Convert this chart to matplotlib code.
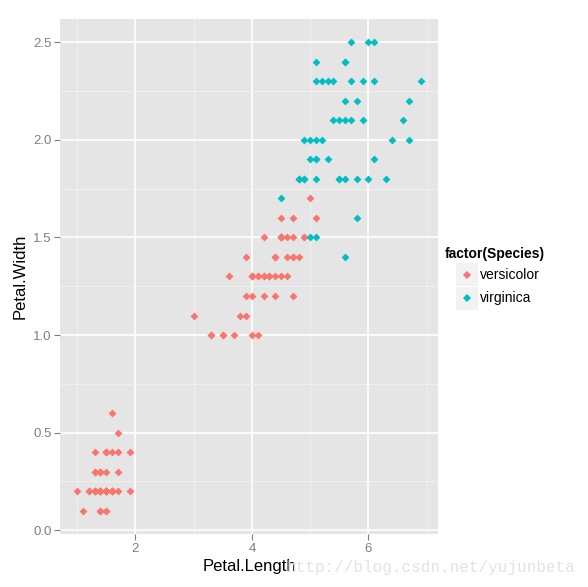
import numpy as np
import matplotlib
matplotlib.use('Agg')
import matplotlib.pyplot as plt
from matplotlib.patches import Rectangle

plt.rcParams['font.family'] = ['Liberation Sans', 'DejaVu Sans']

# iris petal measurements (setosa + versicolor shown as "versicolor")
vers_length = [1.4, 1.4, 1.3, 1.5, 1.4, 1.7, 1.4, 1.5, 1.4, 1.5,
               1.5, 1.6, 1.4, 1.1, 1.2, 1.5, 1.3, 1.4, 1.7, 1.5,
               1.7, 1.5, 1.0, 1.7, 1.9, 1.6, 1.6, 1.5, 1.4, 1.6,
               1.6, 1.5, 1.5, 1.4, 1.5, 1.2, 1.3, 1.4, 1.3, 1.5,
               1.3, 1.3, 1.3, 1.6, 1.9, 1.4, 1.6, 1.5, 1.4, 1.5,
               4.7, 4.5, 4.9, 4.0, 4.6, 4.5, 4.7, 3.3, 4.6, 3.9,
               3.5, 4.2, 4.0, 4.7, 3.6, 4.4, 4.5, 4.1, 4.5, 3.9,
               4.8, 4.0, 4.9, 4.7, 4.3, 4.4, 4.8, 5.0, 4.5, 3.5,
               3.8, 3.7, 3.9, 5.1, 4.5, 4.5, 4.7, 4.4, 4.1, 4.0,
               4.4, 4.6, 4.0, 3.3, 4.2, 4.2, 4.2, 4.3, 3.0, 4.1]
vers_width = [0.2, 0.2, 0.2, 0.2, 0.2, 0.4, 0.3, 0.2, 0.2, 0.1,
              0.2, 0.2, 0.1, 0.1, 0.2, 0.4, 0.4, 0.3, 0.3, 0.3,
              0.2, 0.4, 0.2, 0.5, 0.2, 0.2, 0.4, 0.2, 0.2, 0.2,
              0.2, 0.4, 0.1, 0.2, 0.2, 0.2, 0.2, 0.1, 0.2, 0.2,
              0.3, 0.3, 0.2, 0.6, 0.4, 0.3, 0.2, 0.2, 0.2, 0.2,
              1.4, 1.5, 1.5, 1.3, 1.5, 1.3, 1.6, 1.0, 1.3, 1.4,
              1.0, 1.5, 1.0, 1.4, 1.3, 1.4, 1.5, 1.0, 1.5, 1.1,
              1.8, 1.3, 1.5, 1.2, 1.3, 1.4, 1.4, 1.7, 1.5, 1.0,
              1.1, 1.0, 1.2, 1.6, 1.5, 1.6, 1.5, 1.3, 1.3, 1.3,
              1.2, 1.4, 1.2, 1.0, 1.3, 1.2, 1.3, 1.3, 1.1, 1.3]
virg_length = [6.0, 5.1, 5.9, 5.6, 5.8, 6.6, 4.5, 6.3, 5.8, 6.1,
               5.1, 5.3, 5.5, 5.0, 5.1, 5.3, 5.5, 6.7, 6.9, 5.0,
               5.7, 4.9, 6.7, 4.9, 5.7, 6.0, 4.8, 4.9, 5.6, 5.8,
               6.1, 6.4, 5.6, 5.1, 5.6, 6.1, 5.6, 5.5, 4.8, 5.4,
               5.6, 5.1, 5.1, 5.9, 5.7, 5.2, 5.0, 5.2, 5.4, 5.1]
virg_width = [2.5, 1.9, 2.1, 1.8, 2.2, 2.1, 1.7, 1.8, 1.8, 2.5,
              2.0, 1.9, 2.1, 2.0, 2.4, 2.3, 1.8, 2.2, 2.3, 1.5,
              2.3, 2.0, 2.0, 1.8, 2.1, 1.8, 1.8, 1.8, 2.1, 1.6,
              1.9, 2.0, 2.2, 1.5, 1.4, 2.3, 2.4, 1.8, 1.8, 2.1,
              2.4, 2.3, 1.9, 2.3, 2.5, 2.3, 1.9, 2.0, 2.3, 1.8]

species = ['versicolor', 'virginica']
colors = ['#F8766D', '#00BFC4']

fig = plt.figure(figsize=(5.88, 5.87), dpi=100)
ax = fig.add_axes([0.102, 0.090, 0.643, 0.878])
ax.set_facecolor('#E5E5E5')

ax.scatter(vers_length, vers_width, s=16, marker='D', color=colors[0],
           linewidths=0, zorder=3)
ax.scatter(virg_length, virg_width, s=16, marker='D', color=colors[1],
           linewidths=0, zorder=3)

ax.set_xlim(0.705, 7.195)
ax.set_ylim(-0.02, 2.62)
ax.set_xticks([2, 4, 6])
ax.set_xticks([1, 3, 5, 7], minor=True)
ax.set_yticks([0, 0.5, 1.0, 1.5, 2.0, 2.5])
ax.set_yticklabels(['0.0', '0.5', '1.0', '1.5', '2.0', '2.5'])
ax.set_yticks([0.25, 0.75, 1.25, 1.75, 2.25], minor=True)
ax.grid(True, which='major', color='white', linewidth=1.2, zorder=1)
ax.grid(True, which='minor', color='#F2F2F2', linewidth=0.6, zorder=1)
ax.set_axisbelow(True)
for sp in ax.spines.values():
    sp.set_visible(False)
ax.tick_params(which='major', length=4, color='#7F7F7F', labelcolor='#7F7F7F',
               labelsize=9.5, pad=2)
ax.tick_params(which='minor', length=0)

ax.set_xlabel('Petal.Length', fontsize=12, labelpad=3)
ax.set_ylabel('Petal.Width', fontsize=12, labelpad=4)

# legend
fig.text(0.757, 0.568, 'factor(Species)', fontsize=10, fontweight='bold',
         va='center', ha='left')
for i, (name, c) in enumerate(zip(species, colors)):
    y0 = 0.532 - i * 0.040
    fig.patches.append(Rectangle((0.776, y0 - 0.0195), 0.0374, 0.039,
                                 transform=fig.transFigure,
                                 facecolor='#F2F2F2', edgecolor='none'))
    fig.lines.append(plt.Line2D([0.7947], [y0], marker='D', markersize=4,
                                color=c, markeredgewidth=0,
                                transform=fig.transFigure))
    fig.text(0.817, y0, name, fontsize=10, va='center', ha='left')

fig.text(0.978, 0.034, 'http://blog.csdn.net/yujunbeta', fontsize=11.5,
         family='Liberation Mono', color='#E3E3E3', ha='right', va='center')

fig.savefig('out.png', dpi=100)
